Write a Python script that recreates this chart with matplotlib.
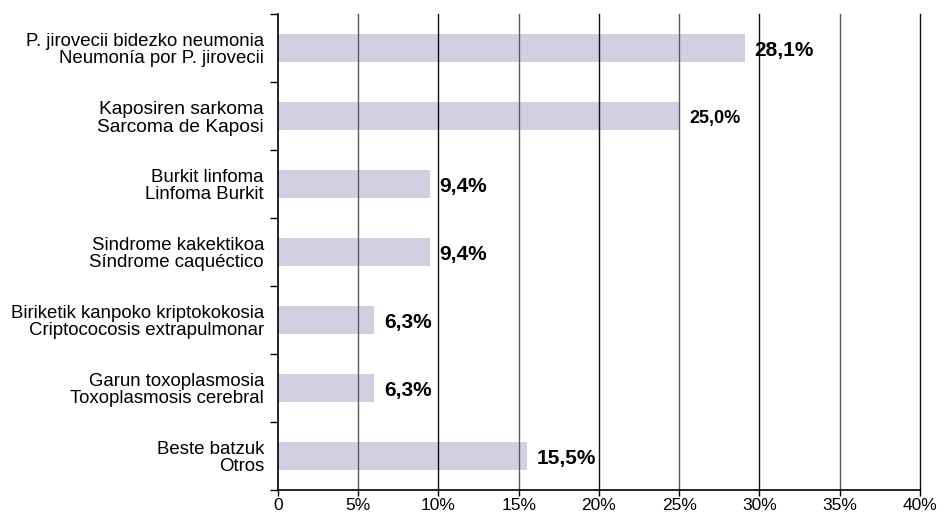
import matplotlib.pyplot as plt
import numpy as np

plt.rcParams['font.family'] = ['Liberation Sans', 'DejaVu Sans']

# categories (top to bottom), two lines: Basque / Spanish
categories = ['P. jirovecii bidezko neumonia\nNeumonía por P. jirovecii',
              'Kaposiren sarkoma\nSarcoma de Kaposi',
              'Burkit linfoma\nLinfoma Burkit',
              'Sindrome kakektikoa\nSíndrome caquéctico',
              'Biriketik kanpoko kriptokokosia\nCriptococosis extrapulmonar',
              'Garun toxoplasmosia\nToxoplasmosis cerebral',
              'Beste batzuk\nOtros']
# bar lengths as drawn (%)
bar_values = [29.1, 25.0, 9.45, 9.45, 6.0, 6.0, 15.5]
# value labels as printed
value_labels = ['28,1%', '25,0%', '9,4%', '9,4%', '6,3%', '6,3%', '15,5%']
xticks = [0, 5, 10, 15, 20, 25, 30, 35, 40]
xtick_labels = ['0', '5%', '10%', '15%', '20%', '25%', '30%', '35%', '40%']

fig = plt.figure(figsize=(9.45, 5.18), dpi=100)
ax = fig.add_axes([0.294, 0.054, 0.6795, 0.919])

y = np.arange(len(categories))
ax.barh(y, bar_values, height=0.4, color='#d3cfe3', zorder=1)

# vertical gridlines, grey and black alternating
for i, xv in enumerate(xticks[1:]):
    ax.axvline(xv, color='#111111' if i % 2 else '#5a5a5a', linewidth=1.0,
               zorder=2, clip_on=False)

ax.set_xlim(0, 40)
ax.set_ylim(len(categories) - 0.5, -0.5)

ax.set_xticks(xticks)
ax.set_xticklabels(xtick_labels, fontsize=12.5)
ax.tick_params(axis='x', length=4, width=1, pad=2, color='black')

ax.set_yticks(y)
ax.set_yticklabels(categories, fontsize=13.4, ha='right', linespacing=1.0)
ax.tick_params(axis='y', which='major', length=0, pad=10)
ax.set_yticks(np.arange(-0.5, len(categories), 1), minor=True)
ax.tick_params(axis='y', which='minor', length=6, width=1, color='black')

# Kaposi label is set larger in the original
kap = ax.get_yticklabels()[1]
kap.set_fontfamily(['Liberation Sans Narrow', 'Liberation Sans'])
kap.set_fontsize(13.8)
kap.set_linespacing(1.1)

for s in ['top', 'right']:
    ax.spines[s].set_visible(False)
ax.spines['left'].set_linewidth(1.2)
ax.spines['bottom'].set_linewidth(1.2)
ax.spines['left'].set_zorder(3)

for i, (v, lab) in enumerate(zip(bar_values, value_labels)):
    if i == 1:
        ax.annotate(lab, xy=(v, i), xytext=(7, -2), textcoords='offset points',
                    ha='left', va='center', fontsize=13, fontweight='bold',
                    family=['Liberation Sans Narrow', 'Liberation Sans'], zorder=4)
    else:
        ax.annotate(lab, xy=(v, i), xytext=(7, -1.5), textcoords='offset points',
                    ha='left', va='center', fontsize=15, fontweight='bold', zorder=4)

fig.savefig('out.png', dpi=100)
